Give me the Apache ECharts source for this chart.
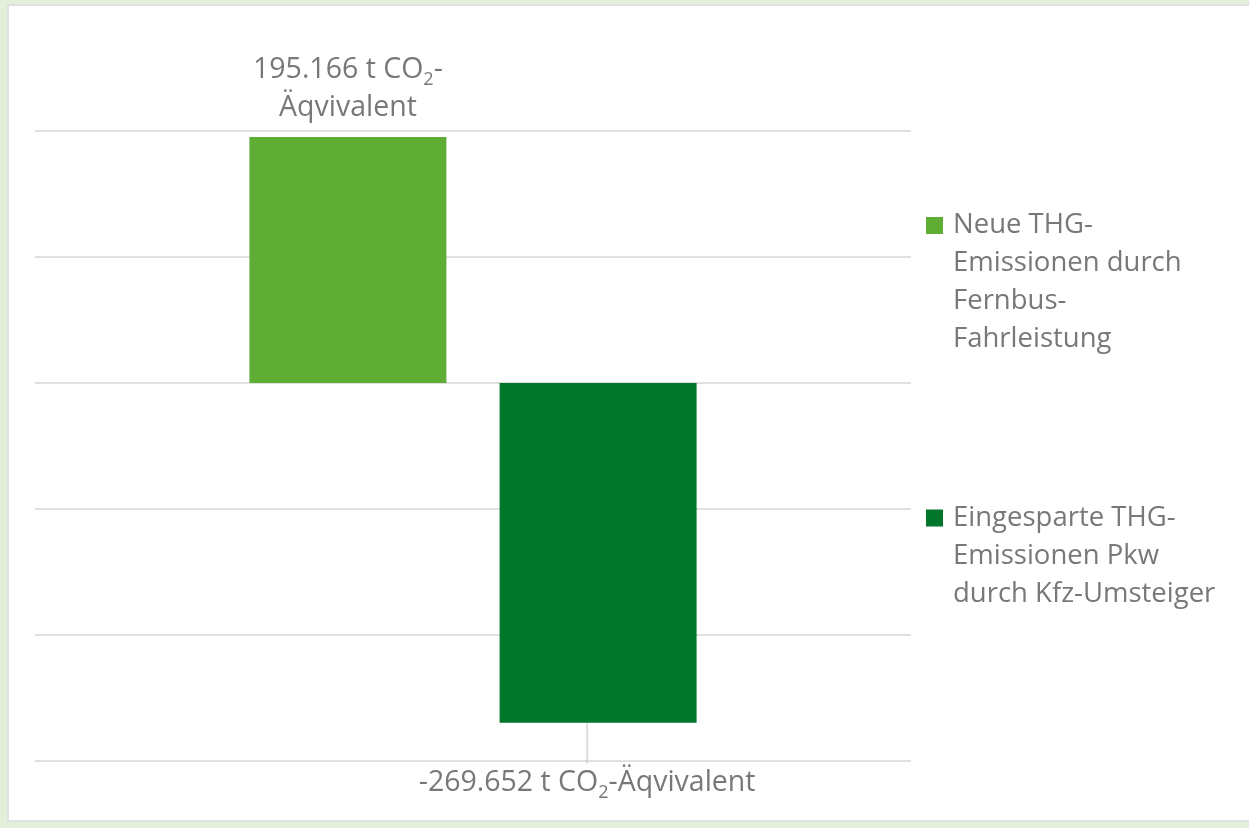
<!DOCTYPE html>
<html>
<head>
<meta charset="utf-8">
<script src="https://cdn.jsdelivr.net/npm/echarts@6/dist/echarts.min.js"></script>
<style>
  html, body { margin: 0; padding: 0; background: #e2f0d9; width: 1249px; height: 828px; overflow: hidden; }
  #chart {
    position: absolute; left: 7px; top: 4px; width: 1242px; height: 818px;
    box-sizing: border-box; background: #fff;
    border-top: 2px solid #e0e0e0; border-left: 2px solid #e0e0e0; border-bottom: 2px solid #e0e0e0;
  }
</style>
</head>
<body>
<div id="chart"></div>
<script>
  // data
  var categories = [''];
  var seriesNames = [
    'Neue THG-Emissionen durch Fernbus-Fahrleistung',
    'Eingesparte THG-Emissionen Pkw durch Kfz-Umsteiger'
  ];
  var newEmissions = [195166];
  var savedEmissions = [-269652];
  // legend wrapping as in the original (leading blank lines keep the icon on the first line)
  var legendLines = {
    'Neue THG-Emissionen durch Fernbus-Fahrleistung': '\n\n\nNeue THG-\nEmissionen durch\nFernbus-\nFahrleistung',
    'Eingesparte THG-Emissionen Pkw durch Kfz-Umsteiger': '\n\nEingesparte THG-\nEmissionen Pkw\ndurch Kfz-Umsteiger'
  };

  var textGray = '#787878';
  var fontFamily = '"Open Sans", "Noto Sans", sans-serif';

  function fmtDE(v) {
    var s = Math.abs(v).toString().replace(/\B(?=(\d{3})+(?!\d))/g, '.');
    return (v < 0 ? '-' : '') + s;
  }

  var richStyle = {
    sub: { fontSize: 18, lineHeight: 18, verticalAlign: 'bottom', color: textGray, fontFamily: fontFamily }
  };

  var chart = echarts.init(document.getElementById('chart'));

  var legendBase = {
    orient: 'vertical', left: 917, padding: 0,
    icon: 'rect', itemWidth: 17, itemHeight: 17,
    formatter: function (n) { return legendLines[n]; },
    textStyle: { color: textGray, fontSize: 27.5, lineHeight: 38, fontFamily: fontFamily, padding: [0, 0, 0, 5] }
  };

  var option = {
    backgroundColor: '#fff',
    animation: false,
    textStyle: { fontFamily: fontFamily },
    grid: { left: 26, right: 338, top: 125, bottom: 59 },
    legend: [
      Object.assign({}, legendBase, { data: [seriesNames[0]], top: 86.5 }),
      Object.assign({}, legendBase, { data: [seriesNames[1]], top: 417 })
    ],
    xAxis: {
      type: 'category',
      data: categories,
      axisLine: { show: false },
      axisTick: { show: false },
      axisLabel: { show: false }
    },
    yAxis: {
      type: 'value',
      min: -300000,
      max: 200000,
      interval: 100000,
      axisLine: { show: false },
      axisTick: { show: false },
      axisLabel: { show: false },
      splitLine: { lineStyle: { color: '#e0e0e0', width: 2 } }
    },
    series: [
      {
        name: seriesNames[0],
        type: 'bar',
        data: newEmissions,
        barWidth: 197,
        barGap: '27%',
        itemStyle: { color: '#5fad35' },
        label: {
          show: true,
          position: 'top',
          distance: 10,
          color: textGray,
          fontSize: 28.5,
          lineHeight: 38,
          align: 'center',
          formatter: function (p) { return fmtDE(p.value) + ' t CO{sub|2}-\nÄqvivalent'; },
          rich: richStyle
        }
      },
      {
        name: seriesNames[1],
        type: 'bar',
        data: savedEmissions,
        barWidth: 197,
        barGap: '27%',
        itemStyle: { color: '#00762a' },
        label: {
          show: true,
          position: 'bottom',
          distance: 5,
          color: textGray,
          fontSize: 28.5,
          lineHeight: 38,
          formatter: function (p) { return fmtDE(p.value) + ' t CO{sub|2}-Äqvivalent'; },
          rich: richStyle
        },
        labelLayout: { dx: -11, dy: 36 },
        labelLine: { show: true, lineStyle: { color: '#bfbfbf', width: 1 } }
      }
    ]
  };

  chart.setOption(option);
</script>
</body>
</html>
